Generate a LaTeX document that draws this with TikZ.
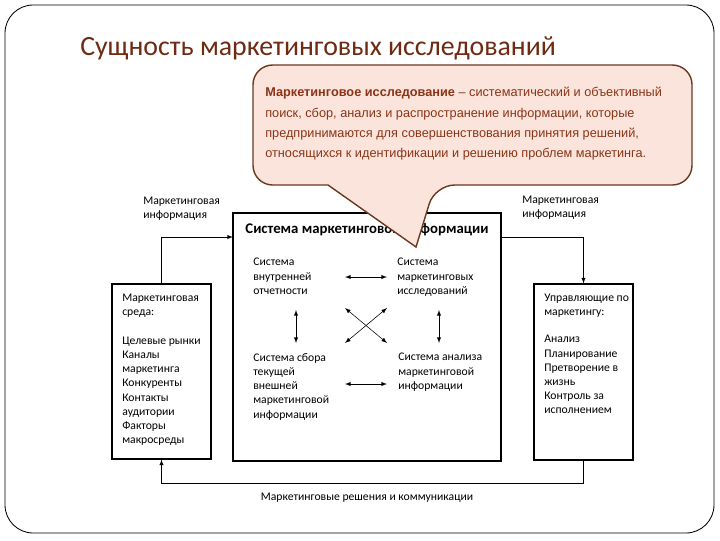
\documentclass[tikz,border=0pt]{standalone}
\usepackage{fontspec}
\setmainfont{Carlito}
\newfontfamily\arialfont{Liberation Sans}

\definecolor{titlebrown}{HTML}{6E2A12}
\definecolor{callfill}{HTML}{FBE4DB}
\definecolor{callline}{HTML}{6B3820}
\definecolor{calltext}{HTML}{8A3517}

\tikzset{
  box/.style={draw, line width=0.8pt, rectangle, inner sep=0pt},
  small/.style={font=\fontsize{8.3}{10.1}\selectfont, align=left, anchor=north west, inner sep=0pt},
}

\begin{document}
\begin{tikzpicture}[x=0.025cm, y=-0.025cm, >=latex]
\useasboundingbox (0,0) rectangle (720,540);
% slide frame and title
\draw[rounded corners=20, line width=0.6pt] (5,5) rectangle (714,533);
\node[anchor=west, inner sep=0pt, text=titlebrown, font=\fontsize{19.8}{24}\selectfont] (title) at (80,48) {Сущность маркетинговых исследований};

% the three boxes
\node[box, minimum width=6.7cm, minimum height=6.2cm] (mis) at (367,337) {};
\node[box, minimum width=2.475cm, minimum height=4.375cm] (env) at (161.5,371.5) {};
\node[box, minimum width=2.475cm, minimum height=4.4cm] (mgr) at (583.5,372) {};

\node[inner sep=0pt, font=\fontsize{10.5}{12}\selectfont\bfseries] (mistitle) at (367,230) {Система маркетинговой информации};
\node[small] (inner) at (253,258) {Система\\внутренней\\отчетности};
\node[small] (research) at (397,258) {Система\\маркетинговых\\исследований};
\node[small] (external) at (253,353) {Система сбора\\текущей\\внешней\\маркетинговой\\информации};
\node[small] (analysis) at (398,353) {Система анализа\\маркетинговой\\информации};

\draw[<->] (345,277) -- (387,277);
\draw[<->] (345,384) -- (387,384);
\draw[<->] (296,310) -- (296,343);
\draw[<->] (439,310) -- (439,343);
\draw[<->] (345,308) -- (387,343);
\draw[<->] (387,308) -- (345,343);

\node[small] (envtext) at (122,294) {Маркетинговая\\среда:\\[10.1pt]Целевые рынки\\Каналы\\маркетинга\\Конкуренты\\Контакты\\аудитории\\Факторы\\макросреды};
\node[small] (mgrtext) at (544,294) {Управляющие по\\маркетингу:\\[9pt]Анализ\\Планирование\\Претворение в\\жизнь\\Контроль за\\исполнением};

% flows
\coordinate (inL) at (233,237);
\coordinate (outR) at (501,237);
\draw[->] (env.north) |- (inL);
\draw[->] (outR) -| (mgr.north);
\draw[->] (mgr.south) -- ++(0,23) -| (env.south);
\node[small] (infoL) at (143,197) {Маркетинговая\\информация};
\node[small] (infoR) at (522,196) {Маркетинговая\\информация};
\node[inner sep=0pt, font=\fontsize{8.3}{10.1}\selectfont] (decisions) at (367,498) {Маркетинговые решения и коммуникации};

% callout
\draw[callline, fill=callfill, line width=1pt] (416,247) -- (328,185) [rounded corners=14] -- (253,185) -- (253,65) -- (692,65) -- (692,185) -- (435,185) [sharp corners] -- cycle;
\node[anchor=north west, inner sep=0pt, align=left, text=calltext, font=\arialfont\fontsize{9.05}{14.5}\selectfont] (definition) at (265,87)
  {\textbf{Маркетинговое исследование} – систематический и объективный\\
   поиск, сбор, анализ и распространение информации, которые\\
   предпринимаются для совершенствования принятия решений,\\
   относящихся к идентификации и решению проблем маркетинга.};
\end{tikzpicture}
\end{document}
